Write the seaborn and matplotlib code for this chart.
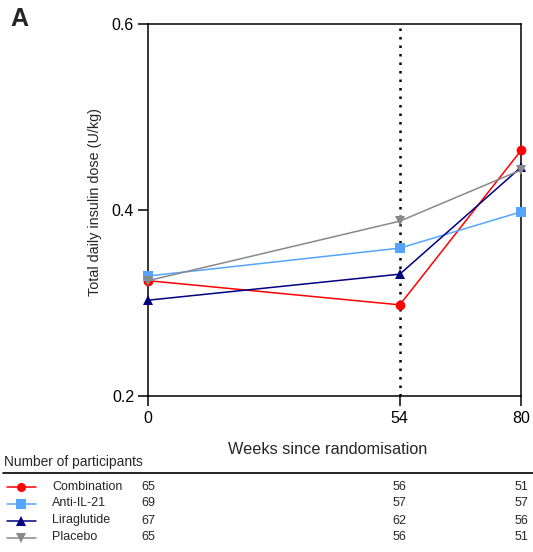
import matplotlib
matplotlib.use("Agg")
import matplotlib.pyplot as plt
from matplotlib.lines import Line2D
from matplotlib.transforms import blended_transform_factory
import seaborn as sns
import pandas as pd

# ---- data ----
weeks = [0, 54, 80]
groups = ["Combination", "Anti-IL-21", "Liraglutide", "Placebo"]
combination = [0.324, 0.298, 0.464]
anti_il21 = [0.329, 0.359, 0.398]
liraglutide = [0.303, 0.331, 0.446]
placebo = [0.324, 0.388, 0.443]
n_combination = [65, 56, 51]
n_anti_il21 = [69, 57, 57]
n_liraglutide = [67, 62, 56]
n_placebo = [65, 56, 51]
x_ticks = [0, 54, 80]
y_ticks = [0.2, 0.4, 0.6]

colors = {"Combination": "#FF0000", "Anti-IL-21": "#55A5FF",
          "Liraglutide": "#000080", "Placebo": "#888888"}
markers = {"Combination": "o", "Anti-IL-21": "s",
           "Liraglutide": "^", "Placebo": "v"}

values = [combination, anti_il21, liraglutide, placebo]
counts = [n_combination, n_anti_il21, n_liraglutide, n_placebo]
rows = []
for g, vals in zip(groups, values):
    for w, v in zip(weeks, vals):
        rows.append({"Week": w, "Dose": v, "Group": g})
df = pd.DataFrame(rows)

sns.set_theme(style="ticks")
plt.rcParams["font.family"] = ["Liberation Sans", "DejaVu Sans"]

W, H = 533, 552
fig = plt.figure(figsize=(W / 100, H / 100), dpi=100)
ax = fig.add_axes([148 / W, 1 - 396 / H, 373 / W, 372 / H])

ax.axvline(54, color="black", lw=1.8, linestyle=(0, (1, 2.4)), zorder=1)

sns.lineplot(data=df, x="Week", y="Dose", hue="Group", style="Group",
             hue_order=groups, style_order=groups, palette=colors,
             markers=markers, dashes=False, markersize=7, linewidth=1.1,
             markeredgewidth=0, legend=False, ax=ax, clip_on=False, zorder=3)

ax.set_xlim(0, 80)
ax.set_ylim(0.2, 0.6)
ax.set_xticks(x_ticks)
ax.set_xticklabels([str(t) for t in x_ticks])
ax.set_yticks(y_ticks)
ax.set_yticklabels([f"{t:.1f}" for t in y_ticks])
for s in ax.spines.values():
    s.set_visible(True)
    s.set_linewidth(1.1)
    s.set_color("black")
ax.tick_params(axis="both", length=7, width=1.1, labelsize=11.5,
               colors="black")
ax.tick_params(axis="x", pad=4)
ax.tick_params(axis="y", pad=3)
ax.set_xlabel("Weeks since randomisation", fontsize=11.7)
ax.xaxis.label.set_va("center")
ax.xaxis.set_label_coords(0.482, (396 - 450) / 372)
ax.set_ylabel("Total daily insulin dose (U/kg)", fontsize=10.4)
ax.yaxis.label.set_va("center")
ax.yaxis.set_label_coords((95 - 148) / 373, (396 - 202.5) / 372)

fig.text(10 / W, 1 - 19 / H, "A", fontsize=18, fontweight="bold",
         ha="left", va="center")

# ---- participant table ----
fig.text(4 / W, 1 - 462 / H, "Number of participants", fontsize=9.9,
         ha="left", va="center")
fig.add_artist(Line2D([3 / W, 1.0], [1 - 473 / H, 1 - 473 / H],
                      color="black", lw=1.2, transform=fig.transFigure))
row_y = [486.5, 503.5, 520.5, 537.5]
btf = blended_transform_factory(ax.transData, fig.transFigure)
for g, cnt, yy in zip(groups, counts, row_y):
    yf = 1 - yy / H
    fig.add_artist(Line2D([7 / W, 36 / W], [yf, yf], color=colors[g], lw=1.1,
                          transform=fig.transFigure))
    fig.add_artist(Line2D([21 / W], [yf], color=colors[g], lw=0,
                          marker=markers[g], markersize=6.5, markeredgewidth=0,
                          transform=fig.transFigure))
    fig.text(52 / W, yf, g, fontsize=9, ha="left", va="center")
    for wk, n in zip(weeks, cnt):
        fig.text(wk, yf, str(n), fontsize=9, ha="center", va="center",
                 transform=btf)

fig.savefig("out.png", dpi=100)
